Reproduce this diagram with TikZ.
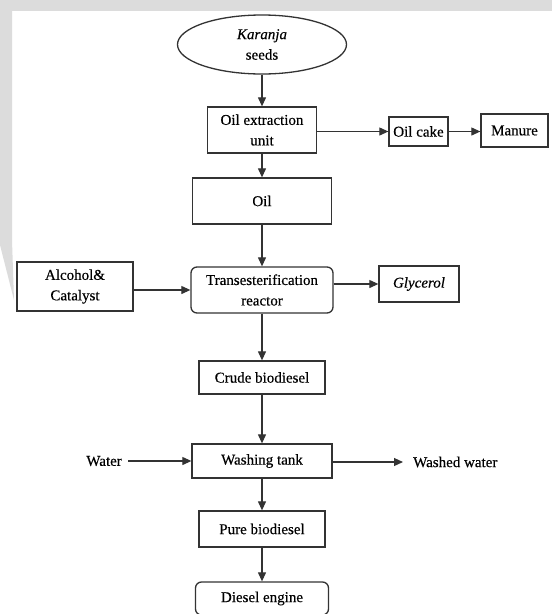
\documentclass[tikz,border=0pt]{standalone}
\usepackage{fontspec}
\setmainfont{Liberation Serif}
\usetikzlibrary{shapes.geometric,arrows.meta}
\definecolor{wm}{HTML}{DCDCDC}
\definecolor{ln}{HTML}{333333}
\begin{document}
\begin{tikzpicture}[x=1pt,y=-1pt,
  every node/.style={font=\fontsize{15}{20.5}\selectfont\addfontfeature{FakeBold=0.35},text=black},
  box/.style n args={2}{draw=ln,line width=1.3pt,minimum width=#1,minimum height=#2,inner sep=0pt,align=center},
  rbox/.style n args={2}{box={#1}{#2},rounded corners=6pt},
  lbl/.style={inner ysep=0pt},
  arr/.style={draw=ln,line width=1.1pt,-{Triangle[length=9pt,width=8pt]}}]
\useasboundingbox (0,0) rectangle (552,614);
\fill[white] (0,0) rectangle (552,614);
\fill[wm] (0,0) rectangle (552,11);
\fill[wm] (0,11) -- (12,11) -- (12,240) -- (14,300) -- (0,245) -- cycle;
% nodes
\node[ellipse,draw=ln,line width=1.3pt,minimum width=169,minimum height=59,inner sep=0pt,align=center] (seeds) at (262,44.5) {\itshape Karanja\\seeds};
\node[box={109}{46}] (ext) at (262,130) {Oil extraction\\unit};
\node[box={59}{29}] (cake) at (418.5,131.5) {Oil cake};
\node[box={67}{33}] (manure) at (514.5,130.5) {Manure};
\node[box={139}{46}] (oil) at (262,201) {Oil};
\node[box={116}{49}] (alc) at (75,286.5) {Alcohol\&\\Catalyst};
\node[rbox={142}{46}] (reac) at (262,290) {Transesterification\\reactor};
\node[box={80}{36}] (gly) at (419,284) {\itshape Glycerol};
\node[box={126}{33}] (crude) at (262,377.5) {Crude biodiesel};
\node[box={140}{34}] (wash) at (262,461) {Washing tank};
\node[lbl,anchor=east,inner xsep=6pt] (water) at (128,461) {Water};
\node[lbl,anchor=west,inner xsep=10pt] (ww) at (403,462) {Washed water};
\node[box={126}{36}] (pure) at (262,529) {Pure biodiesel};
\node[rbox={133}{33}] (eng) at (262,598.5) {Diesel engine};
% connectors
\draw[arr] (seeds.south) -- (ext.north);
\draw[arr] (ext.south) -- (oil.north);
\draw[arr] (ext.east |- cake.west) -- (cake.west);
\draw[arr] (cake.east) -- (manure.west |- cake.east);
\draw[arr] (oil.south) -- (reac.north);
\draw[arr] (alc.east |- reac.west) -- (reac.west);
\draw[arr] (reac.east |- gly.west) -- (gly.west);
\draw[arr] (reac.south) -- (crude.north);
\draw[arr] (crude.south) -- (wash.north);
\draw[arr] (water.east) -- (wash.west |- water.east);
\draw[arr] (wash.east |- ww.west) -- (ww.west);
\draw[arr] (wash.south) -- (pure.north);
\draw[arr] (pure.south) -- (eng.north);
\end{tikzpicture}
\end{document}
